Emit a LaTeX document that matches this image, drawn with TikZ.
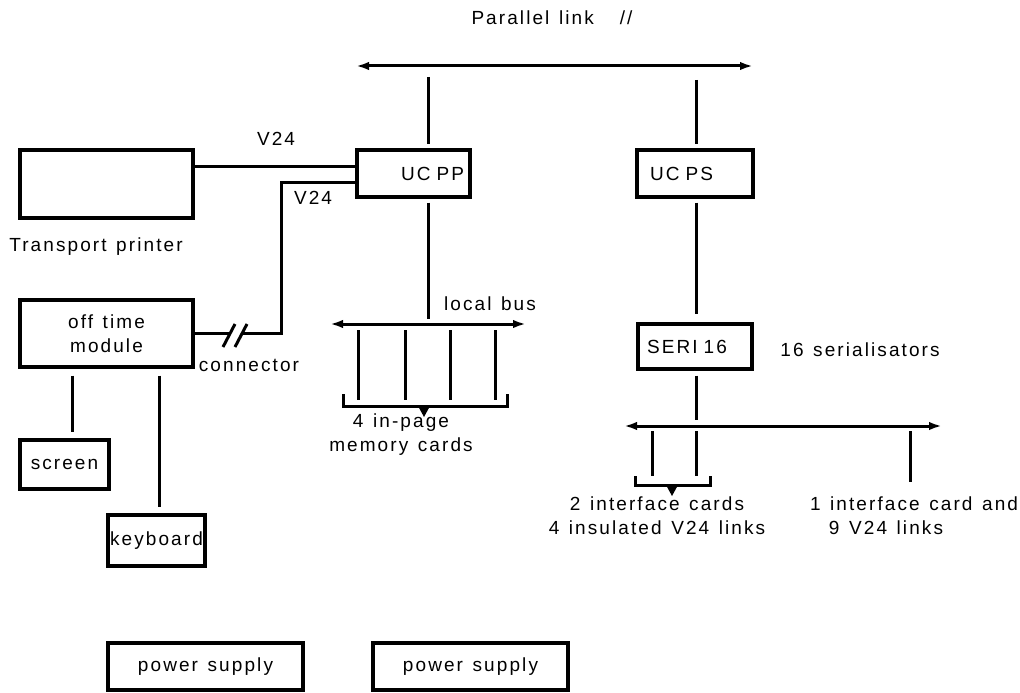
\documentclass[tikz,border=0pt]{standalone}
\usepackage{fontspec}
\setmainfont{Liberation Sans}[LetterSpace=11,WordSpace=1.3]
\usetikzlibrary{arrows.meta}
\begin{document}
\begin{tikzpicture}[x=1pt,y=-1pt,
  fnt/.style={font=\fontsize{19}{24}\selectfont},
  box/.style={draw,line width=3.3pt,inner sep=0pt,fnt},
  txt/.style={inner sep=0pt,fnt},
  ln/.style={line width=3pt},
  bus/.style={line width=3pt,{Latex[length=13pt,width=8.5pt]}-{Latex[length=13pt,width=8.5pt]}},
]
\useasboundingbox (0,0) rectangle (1020,693);

% boxes
\node[box,minimum width=173pt,minimum height=68pt] (printer) at (106.5,184) {};
\node[box,minimum width=113pt,minimum height=47pt,text width=101pt,align=right] (ucpp) at (413.5,173.5) {UC\hspace{6pt}PP};
\node[box,minimum width=116pt,minimum height=47pt,text width=90pt,align=left] (ucps) at (695,173.5) {UC\hspace{6pt}PS};
\node[box,minimum width=114pt,minimum height=45pt,text width=96pt,align=left] (seri) at (695,346.5) {SERI\hspace{6pt}16};
\node[box,minimum width=173pt,minimum height=67pt,align=center] (module) at (106.5,333.5) {off time\\module};
\node[box,minimum width=89pt,minimum height=49pt] (screen) at (64.5,464.5) {screen};
\node[box,minimum width=97pt,minimum height=51pt] (keyboard) at (156.5,540.5) {keyboard};
\node[box,minimum width=195pt,minimum height=47pt] (ps1) at (205.5,666.5) {power supply};
\node[box,minimum width=195pt,minimum height=47pt] (ps2) at (470.5,666.5) {power supply};

% labels
\node[txt] (lpl) at (552,18) {Parallel link\hspace{26pt}//};
\node[txt] (lv1) at (276,139) {V24};
\node[txt] (lv2) at (313,198) {V24};
\node[txt] (ltp) at (96,247) {Transport printer};
\node[txt] (lcon) at (249,365) {connector};
\node[txt] (llb) at (490,304) {local bus};
\node[txt,align=center] (lmem) at (401,435) {4 in-page\\memory cards};
\node[txt] (lser) at (860,350) {16 serialisators};
\node[txt,align=center] (lic) at (657,516) {2 interface cards\\4 insulated V24 links};
\node[txt] (lic1) at (914,504) {1 interface card and};
\node[txt] (lic2) at (886,528) {9 V24 links};

% coordinates
\coordinate (pa) at (356,66);
\coordinate (pb) at (753,66);
\coordinate (xa) at (428,0);
\coordinate (xb) at (696,0);
\coordinate (lb1) at (330,324);
\coordinate (lb2) at (526,324);
\coordinate (sb1) at (624,426);
\coordinate (sb2) at (942,426);
\coordinate (cx) at (281,250);
\coordinate (v1) at ([yshift=7.5pt]ucpp.west);
\coordinate (v2) at ([yshift=-8.5pt]ucpp.west);

% parallel link
\draw[bus] (pa) -- (pb);
\draw[ln,shorten <=11pt,shorten >=4pt] (pa -| xa) -- (ucpp.north -| xa);
\draw[ln,shorten <=14pt,shorten >=4pt] (pa -| xb) -- (ucps.north -| xb);

% V24 links
\draw[ln] (v1) -- (v1 -| printer.east);
\draw[ln] (v2) -| (cx) |- (module.east);
\fill[white] (229,328) rectangle (241,342);
\draw[ln] (223,347) -- (235,324);
\draw[ln] (235,347) -- (247,324);

% module peripherals
\draw[ln,shorten <=7pt,shorten >=6pt] (module.south -| 72,0) -- (screen.north -| 72,0);
\draw[ln,shorten <=7pt,shorten >=6pt] (module.south -| 159,0) -- (keyboard.north -| 159,0);

% local bus
\draw[ln,shorten <=4pt,shorten >=5pt] (ucpp.south -| xa) -- (lb1 -| xa);
\draw[bus] (lb1) -- (lb2);
\foreach \x in {358,405,450,495} \draw[ln] (\x,330) -- (\x,400);
\draw[ln] (343,394) -- (343,406) -- (507,406) -- (507,394);
\fill (418,406) -- (430,406) -- (424,417) -- cycle;

% serial side
\draw[ln,shorten <=4pt,shorten >=8pt] (ucps.south -| xb) -- (seri.north -| xb);
\draw[ln,shorten <=5pt,shorten >=6pt] (seri.south -| xb) -- (sb1 -| xb);
\draw[bus] (sb1) -- (sb2);
\draw[ln] (652,431) -- (652,476);
\draw[ln] (696,431) -- (696,476);
\draw[ln] (910,431) -- (910,482);
\draw[ln] (635,476) -- (635,485) -- (710,485) -- (710,476);
\fill (666,485) -- (678,485) -- (672,496) -- cycle;
\end{tikzpicture}
\end{document}
